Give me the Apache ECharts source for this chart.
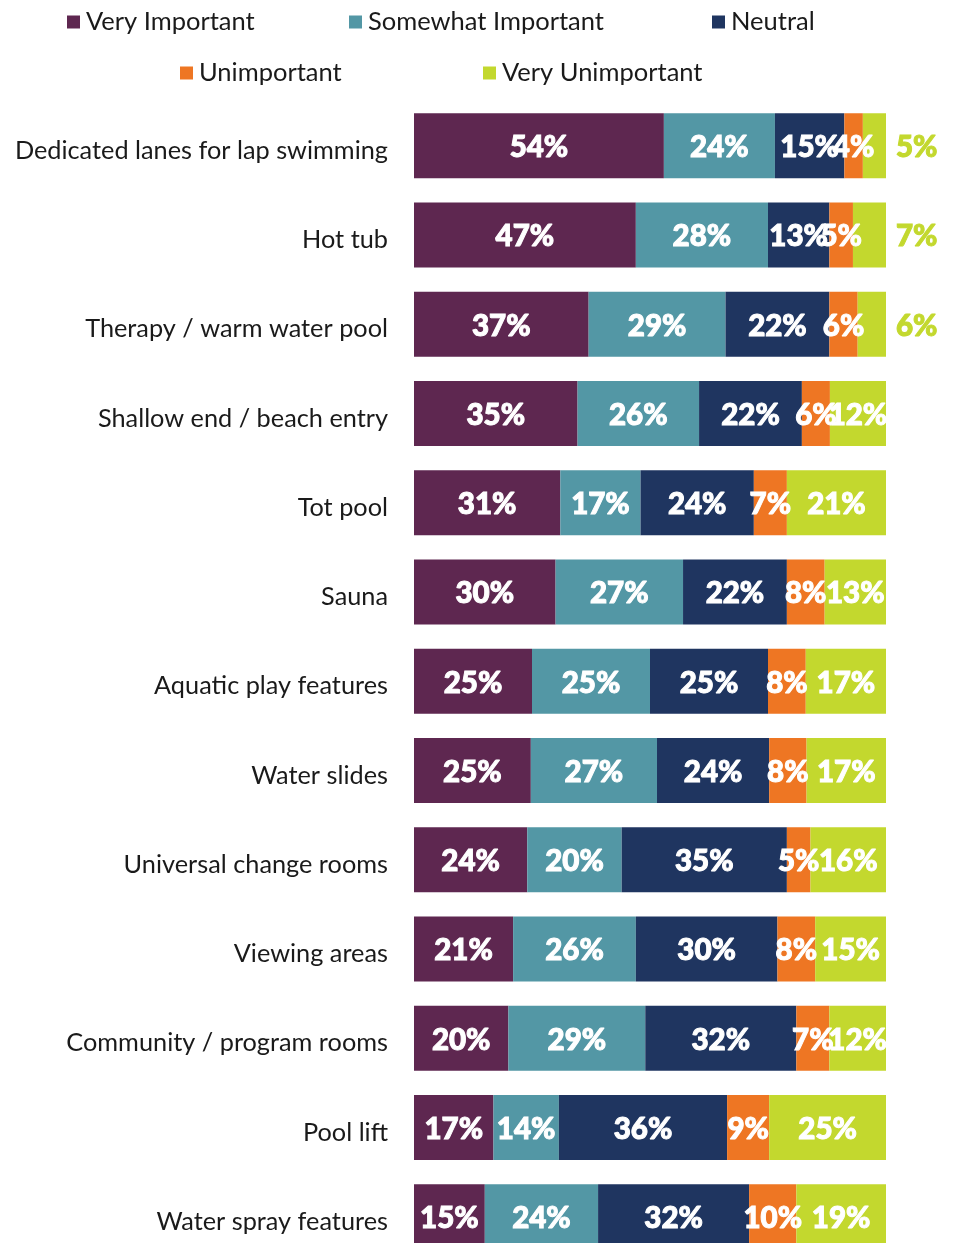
<!DOCTYPE html>
<html>
<head>
<meta charset="utf-8">
<script src="https://cdn.jsdelivr.net/npm/echarts@6/dist/echarts.min.js"></script>
<style>
  html, body { margin: 0; padding: 0; background: #fff; }
  #chart { width: 958px; height: 1243px; }
</style>
</head>
<body>
<div id="chart"></div>
<script>
// categories, top to bottom
var categories = [
  'Dedicated lanes for lap swimming', 'Hot tub', 'Therapy / warm water pool',
  'Shallow end / beach entry', 'Tot pool', 'Sauna', 'Aquatic play features',
  'Water slides', 'Universal change rooms', 'Viewing areas',
  'Community / program rooms', 'Pool lift', 'Water spray features'
]
var seriesNames = ['Very Important', 'Somewhat Important', 'Neutral', 'Unimportant', 'Very Unimportant']
var colors = ['#5e2750', '#5397a5', '#1f3560', '#ee7623', '#c3d82e']

var veryImportant     = [54, 47, 37, 35, 31, 30, 25, 25, 24, 21, 20, 17, 15]
var somewhatImportant = [24, 28, 29, 26, 17, 27, 25, 27, 20, 26, 29, 14, 24]
var neutral           = [15, 13, 22, 22, 24, 22, 25, 24, 35, 30, 32, 36, 32]
var unimportant       = [4, 5, 6, 6, 7, 8, 8, 8, 5, 8, 7, 9, 10]
var veryUnimportant   = [5, 7, 6, 12, 21, 13, 17, 17, 16, 15, 12, 25, 19]

var allValues = [veryImportant, somewhatImportant, neutral, unimportant, veryUnimportant]

// row totals (rounded labels do not always add to 100), bars are scaled to 100%
var totals = categories.map(function (c, i) {
  return allValues.reduce(function (s, arr) { return s + arr[i] }, 0)
})

var chart = echarts.init(document.getElementById('chart'))

var series = allValues.map(function (arr, k) {
  var isLast = k === allValues.length - 1
  return {
    name: seriesNames[k],
    type: 'bar',
    stack: 'total',
    barWidth: 65,
    itemStyle: { color: colors[k] },
    data: arr.map(function (v, i) {
      var item = { value: v / totals[i] * 100, raw: v }
      // small last segments get their label outside the bar
      if (isLast && v < 10) {
        item.label = { position: 'right', distance: 10, color: colors[k], textBorderColor: colors[k] }
      }
      return item
    }),
    label: {
      show: true,
      position: 'inside',
      offset: [0, 2],
      color: '#fff',
      // thin stroke in the text colour to mimic the heavy weight
      textBorderColor: '#fff',
      textBorderWidth: 1,
      fontFamily: 'Lato',
      fontWeight: 900,
      fontSize: 29.5,
      formatter: function (p) { return p.data.raw + '%' }
    }
  }
})

var legendPos = [[67, 9], [349, 9], [712, 9], [180, 60], [483, 60]]
var legends = seriesNames.map(function (name, k) {
  return {
    data: [name],
    left: legendPos[k][0],
    top: legendPos[k][1],
    padding: 0,
    icon: 'rect',
    itemWidth: 13,
    itemHeight: 13,
    itemGap: 0,
    selectedMode: false,
    textStyle: { fontFamily: 'Lato', fontSize: 25.5, color: '#1a1a1a', lineHeight: 24, padding: [0, 0, 0, 1] }
  }
})

chart.setOption({
  animation: false,
  legend: legends,
  grid: { left: 414, width: 472, top: 101, height: 1071 / 12 * 13, outerBoundsMode: 'none' },
  xAxis: { type: 'value', min: 0, max: 100, show: false },
  yAxis: {
    type: 'category',
    inverse: true,
    data: categories,
    axisLine: { show: false },
    axisTick: { show: false },
    axisLabel: {
      margin: 26, fontFamily: 'Lato', fontSize: 25.3, color: '#1a1a1a',
      verticalAlign: 'top', lineHeight: 10
    }
  },
  series: series
})
</script>
</body>
</html>
